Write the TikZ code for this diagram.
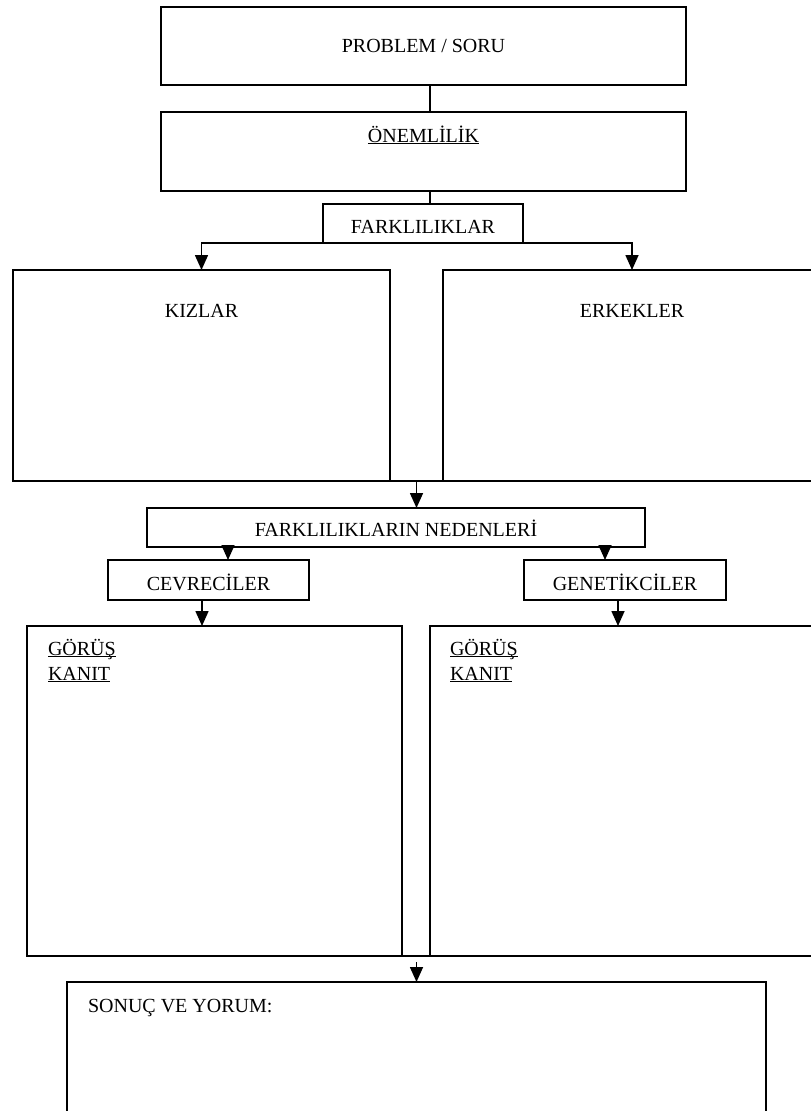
\documentclass[tikz,border=0pt]{standalone}
\usepackage{fontspec}
\setmainfont{Liberation Serif}
\usetikzlibrary{arrows.meta}

% underline drawn as a rule under the text
\newcommand{\undl}[1]{\setbox0\hbox{#1}\rlap{\rule[-2.2pt]{\wd0}{1.3pt}}\box0}

\begin{document}
\begin{tikzpicture}[x=1pt,y=-1pt,
  box/.style={draw,line width=1.6pt,rectangle,inner sep=0pt,outer sep=0pt},
  lbl/.style={inner sep=0pt,outer sep=0pt,font=\fontsize{20}{25}\selectfont},
  link/.style={line width=1.6pt},
  arr/.style={line width=1.6pt,-{Triangle[width=13pt,length=15pt]}}]

\useasboundingbox (0,0) rectangle (811,1111);
\clip (0,0) rectangle (811,1111);

% reference x positions of the vertical connectors
\coordinate (spine) at (430,0);
\coordinate (midx) at (416.5,0);
\coordinate (leftx) at (228,0);
\coordinate (rightx) at (605,0);
\coordinate (cevx) at (202,0);
\coordinate (genx) at (618,0);

% boxes
\node[box,minimum width=525pt,minimum height=78pt] (prob) at (423.5,46) {};
\node[box,minimum width=525pt,minimum height=79pt] (onem) at (423.5,151.5) {};
\node[box,minimum width=200pt,minimum height=39pt] (fark) at (423,223.5) {};
\node[box,minimum width=377pt,minimum height=211pt] (kiz) at (201.5,375.5) {};
\node[box,minimum width=378pt,minimum height=211pt] (erk) at (632,375.5) {};
\node[box,minimum width=498pt,minimum height=39pt] (ned) at (396,527.5) {};
\node[box,minimum width=201pt,minimum height=40pt] (cev) at (208.5,580) {};
\node[box,minimum width=202pt,minimum height=40pt] (gen) at (625,580) {};
\node[box,minimum width=375pt,minimum height=330pt] (gorl) at (214.5,791) {};
\node[box,minimum width=400pt,minimum height=330pt] (gorr) at (630,791) {};
\node[box,minimum width=699pt,minimum height=150pt] (son) at (416.5,1057) {};

% texts
\node[lbl] (tprob) at (prob.center) {PROBLEM / SORU};
\node[lbl,anchor=base] (tonem) at ([yshift=-30pt]onem.north) {\undl{ÖNEMLİLİK}};
\node[lbl,anchor=base] (tfark) at ([yshift=-29pt]fark.north) {FARKLILIKLAR};
\node[lbl,anchor=base] (tkiz) at ([yshift=-47pt]kiz.north) {KIZLAR};
\node[lbl,anchor=base] (terk) at ([yshift=-47pt]erk.north) {ERKEKLER};
\node[lbl,anchor=base] (tned) at ([yshift=-28pt]ned.north) {FARKLILIKLARIN NEDENLERİ};
\node[lbl,anchor=base] (tcev) at ([yshift=-30pt]cev.north) {CEVRECİLER};
\node[lbl,anchor=base] (tgen) at ([yshift=-30pt]gen.north) {GENETİKCİLER};
\node[lbl,anchor=base west] (gl1) at ([xshift=21pt,yshift=-29pt]gorl.north west) {\undl{GÖRÜŞ}};
\node[lbl,anchor=base west] (gl2) at ([xshift=21pt,yshift=-54pt]gorl.north west) {\undl{KANIT}};
\node[lbl,anchor=base west] (gr1) at ([xshift=20pt,yshift=-29pt]gorr.north west) {\undl{GÖRÜŞ}};
\node[lbl,anchor=base west] (gr2) at ([xshift=20pt,yshift=-54pt]gorr.north west) {\undl{KANIT}};
\node[lbl,anchor=base west] (tson) at ([xshift=21pt,yshift=-30pt]son.north west) {SONUÇ VE YORUM:};

% connectors
\draw[link] (prob.south -| spine) -- (onem.north -| spine);
\draw[link] (onem.south -| spine) -- (fark.north -| spine);
\draw[arr] (fark.south west) -| (kiz.north);
\draw[arr] (fark.south east) -| (erk.north);
\draw[link] (kiz.south east) -- (erk.south west);
\draw[arr] (kiz.south -| midx) -- (ned.north -| midx);
\draw[arr] (ned.south -| leftx) -- (cev.north -| leftx);
\draw[arr] (ned.south -| rightx) -- (gen.north -| rightx);
\draw[arr] (cev.south -| cevx) -- (gorl.north -| cevx);
\draw[arr] (gen.south -| genx) -- (gorr.north -| genx);
\draw[link] (gorl.south east) -- (gorr.south west);
\draw[arr] ([yshift=-6pt]gorl.south -| midx) -- (son.north -| midx);

\end{tikzpicture}
\end{document}
